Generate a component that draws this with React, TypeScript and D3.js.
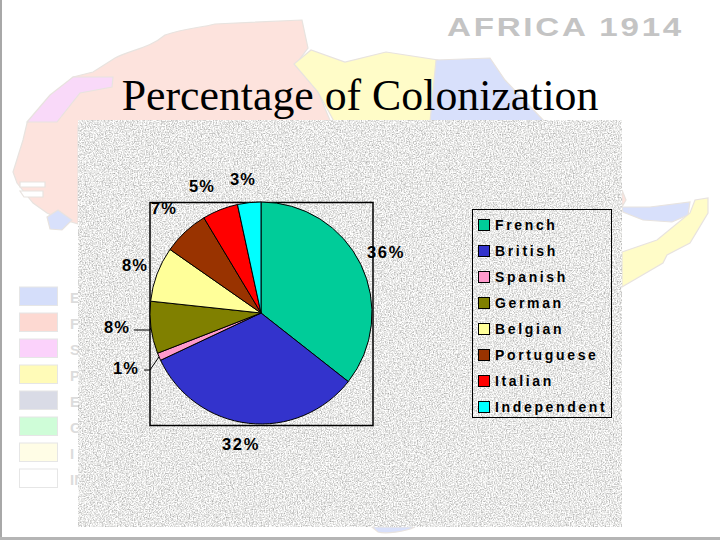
import React, { useEffect, useRef } from "react";
import * as d3 from "d3";

const categories = ["French", "British", "Spanish", "German", "Belgian", "Portuguese", "Italian", "Independent"];
const values = [35.6, 32.4, 1.1, 7.6, 8.0, 6.7, 5.2, 3.4];
const labels = ["36%", "32%", "1%", "8%", "8%", "7%", "5%", "3%"];
const colors = ["#00CC99", "#3333CC", "#FF99CC", "#808000", "#FFFF99", "#993300", "#FF0000", "#00FFFF"];
const labelPos: [number, number][] = [
  [386, 254], [241, 446], [126, 370], [117, 329], [135, 267], [164, 210], [202, 188], [243, 181],
];
const legendNames = ["E", "F", "S", "P", "E", "G", "I", "IN"];
const legendSwatches = ["#d5defa", "#fdd9d2", "#fbd2fb", "#fffbb8", "#d9dbe6", "#cffdd8", "#fffde6", "#ffffff"];

const backdrop: { d: string; fill: string }[] = [
  { fill: "#fde3dd", d: "M73 77 L93 72 L115 58 C130 50 150 48 165 35 C185 28 200 28 215 24 L302 20 L308 48 L296 64 L318 92 L332 125 L78 125 L78 224 L58 218 L47 213 L33 203 L17 183 L13 172 L23 140 L27 123 Z" },
  { fill: "#ffffff", d: "M20 182 L45 182 L45 187 L20 187 Z" },
  { fill: "#ffffff", d: "M20 191 L43 191 L43 197 L24 197 Z" },
  { fill: "#d8e0fb", d: "M47 217 L58 210 L72 220 L62 230 L50 229 Z" },
  { fill: "#f9d9f9", d: "M27 122 L50 95 L73 77 L113 77 L112 87 L80 93 L57 122 Z" },
  { fill: "#fffcc8", d: "M294 64 L311 50 L345 62 L386 52 L438 60 L434 90 L432 125 L336 125 L318 92 Z" },
  { fill: "#d8e0fb", d: "M436 60 L490 58 L505 80 L545 122 L430 122 Z" },
  { fill: "#fde3dd", d: "M622 190 L626 200 L622 207 Z" },
  { fill: "#d8e0fb", d: "M622 207 L650 207 L690 202 L688 215 L672 222 L643 220 L623 212 Z" },
  { fill: "#fffcc8", d: "M622 252 L657 240 L690 213 L695 200 L708 198 L708 213 L690 243 L667 255 L663 263 L622 287 Z" },
  { fill: "#d8e0fb", d: "M372 527 L415 527 C405 532 385 534 378 532 Z" },
];

const W = 720;
const H = 540;
const cx = 261;
const cy = 313;
const R = 111;

export default function App() {
  const ref = useRef<SVGSVGElement | null>(null);

  useEffect(() => {
    const svg = d3.select(ref.current);
    svg.selectAll("*").remove();

    const defs = svg.append("defs");
    const f = defs.append("filter").attr("id", "grain").attr("x", 0).attr("y", 0).attr("width", "100%").attr("height", "100%")
      .attr("color-interpolation-filters", "sRGB");
    f.append("feTurbulence").attr("type", "fractalNoise").attr("baseFrequency", 0.75).attr("numOctaves", 3).attr("seed", 4);
    f.append("feColorMatrix").attr("type", "matrix")
      .attr("values", "0.65 0 0 0 0.585  0.65 0 0 0 0.585  0.65 0 0 0 0.58  0 0 0 0 1");

    svg.append("rect").attr("width", W).attr("height", H).attr("fill", "#ffffff");
    svg.append("rect").attr("x", 0).attr("y", 0).attr("width", 2).attr("height", H).attr("fill", "#a8a8a8");
    svg.append("rect").attr("x", 0).attr("y", 537).attr("width", W).attr("height", 3).attr("fill", "#b5b5b5");

    // faded map behind the slide
    svg.append("g").selectAll("path").data(backdrop).enter().append("path")
      .attr("d", (d) => d.d).attr("fill", (d) => d.fill).attr("stroke", "#e8e3df").attr("stroke-width", 1.2);

    svg.append("text").attr("transform", "translate(447,36) scale(1.25,1)").attr("font-family", "Liberation Sans, Arial, sans-serif")
      .attr("font-weight", "bold").attr("font-size", 26.5).attr("letter-spacing", 2.2).attr("fill", "#c4c4c4").text("AFRICA 1914");

    // faded map legend
    const mapY = d3.scaleBand<number>().domain(d3.range(legendNames.length)).range([285, 493]);
    const mapG = svg.append("g").selectAll("g").data(legendNames).enter().append("g");
    mapG.append("rect").attr("x", 19.5).attr("y", (_, i) => mapY(i)! + 2).attr("width", 38).attr("height", 18.5)
      .attr("fill", (_, i) => legendSwatches[i]).attr("stroke", "#e6e6e6");
    mapG.append("text").attr("x", 70).attr("y", (_, i) => mapY(i)! + 18)
      .attr("font-family", "Liberation Sans, Arial, sans-serif").attr("font-weight", "bold").attr("font-size", 15)
      .attr("fill", "#dcdcdc").text((d) => d);

    // title
    svg.append("text").attr("x", 360).attr("y", 110).attr("text-anchor", "middle")
      .attr("font-family", "Liberation Serif, Times New Roman, serif").attr("font-size", 43.8).attr("fill", "#000")
      .text("Percentage of Colonization");

    // textured panel
    svg.append("rect").attr("x", 78).attr("y", 120).attr("width", 544).attr("height", 407)
      .attr("fill", "#e8e8e6").attr("filter", "url(#grain)");

    // plot frame
    svg.append("rect").attr("x", 150).attr("y", 202.5).attr("width", 223).attr("height", 223)
      .attr("fill", "none").attr("stroke", "#000").attr("stroke-width", 1.5);

    // pie
    const pie = d3.pie<number>().sort(null).value((d) => d);
    const arc = d3.arc<d3.PieArcDatum<number>>().innerRadius(0).outerRadius(R);
    const arcs = pie(values);
    svg.append("g").attr("transform", `translate(${cx},${cy})`).selectAll("path").data(arcs).enter().append("path")
      .attr("d", arc).attr("fill", (_, i) => colors[i]).attr("stroke", "#000").attr("stroke-width", 1);

    // leader lines for the two small labels
    const leaderG = svg.append("g").attr("stroke", "#000").attr("fill", "none");
    const outer = d3.arc<d3.PieArcDatum<number>>().innerRadius(R).outerRadius(R);
    [2, 3].forEach((i) => {
      const [px, py] = outer.centroid(arcs[i]);
      const lx = i === 2 ? 144 : 134;
      const ly = i === 2 ? 370 : 330;
      leaderG.append("polyline").attr("points", `${lx},${ly} 150,${ly} ${cx + px},${cy + py}`);
    });

    // percentage labels
    svg.append("g").selectAll("text").data(labels).enter().append("text")
      .attr("x", (_, i) => labelPos[i][0]).attr("y", (_, i) => labelPos[i][1])
      .attr("text-anchor", "middle").attr("dominant-baseline", "middle")
      .attr("font-family", "Liberation Sans, Arial, sans-serif").attr("font-weight", "bold").attr("font-size", 16.5)
      .attr("letter-spacing", (_, i) => (i < 2 ? 1.6 : 1.2)).attr("fill", "#000").text((d) => d);

    // legend
    svg.append("rect").attr("x", 472.5).attr("y", 209.5).attr("width", 139).attr("height", 208)
      .attr("fill", "none").attr("stroke", "#000").attr("stroke-width", 1);
    const ly = d3.scalePoint<string>().domain(categories).range([225, 407]);
    const items = svg.append("g").selectAll("g").data(categories).enter().append("g");
    items.append("rect").attr("x", 478.5).attr("y", (d) => ly(d)! - 5.5).attr("width", 11).attr("height", 11)
      .attr("fill", (_, i) => colors[i]).attr("stroke", "#000").attr("stroke-width", 1);
    items.append("text").attr("x", 495).attr("y", (d) => ly(d)! + 5)
      .attr("font-family", "Liberation Sans, Arial, sans-serif").attr("font-weight", "bold").attr("font-size", 14)
      .attr("letter-spacing", 2.65).attr("fill", "#000").text((d) => d);
  }, []);

  return (
    <svg
      ref={ref}
      width={W}
      height={H}
      viewBox={`0 0 ${W} ${H}`}
      style={{ position: "fixed", left: 0, top: 0, display: "block" }}
    />
  );
}
